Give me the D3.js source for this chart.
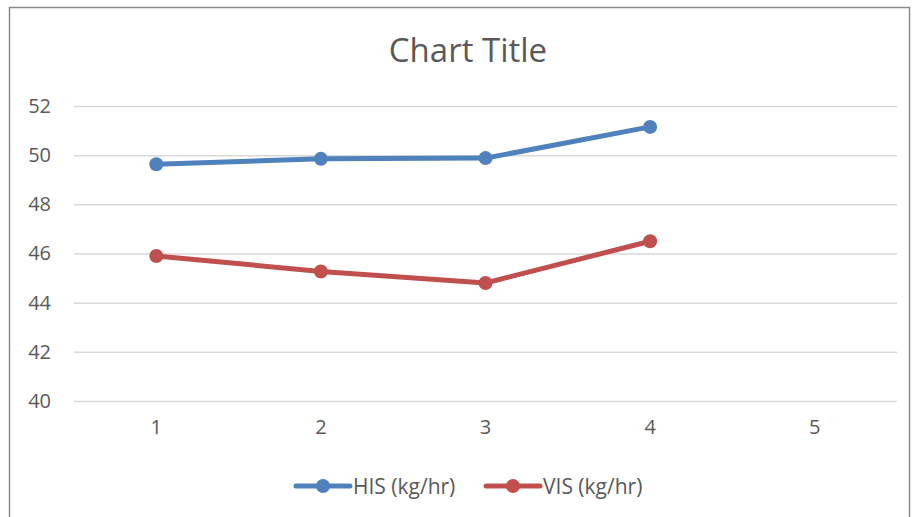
<!DOCTYPE html>
<html>
<head>
<meta charset="utf-8">
<script src="https://cdn.jsdelivr.net/npm/d3@7"></script>
<style>
    body { margin: 0; background: #fff; }
    text { font-family: "Open Sans", Lato, sans-serif; fill: #595959; }
</style>
</head>
<body>
<div id="chart"></div>
<script>
// chart data
var categories = [1, 2, 3, 4, 5];
var hisValues = [49.63, 49.85, 49.88, 51.15];
var visValues = [45.9, 45.27, 44.8, 46.5];
var yTicks = [40, 42, 44, 46, 48, 50, 52];
var seriesNames = ["HIS (kg/hr)", "VIS (kg/hr)"];
var seriesColors = ["#4f81bd", "#c0504d"];

var width = 912, height = 517;
var margin = { top: 106, right: 15, bottom: 116, left: 74 };

var svg = d3.select("#chart").append("svg")
    .attr("width", width)
    .attr("height", height);

// outer frame
svg.append("rect")
    .attr("x", 9.5).attr("y", 7.5)
    .attr("width", 900).attr("height", 530)
    .attr("fill", "none")
    .attr("stroke", "#8c8c8c")
    .attr("stroke-width", 1.5);

var plotW = width - margin.left - margin.right;
var plotH = height - margin.top - margin.bottom;

var g = svg.append("g")
    .attr("transform", "translate(" + margin.left + "," + margin.top + ")");

var x = d3.scaleBand()
    .domain(categories)
    .range([0, plotW]);
var y = d3.scaleLinear()
    .domain([40, 52])
    .range([plotH, 0]);

// gridlines
g.selectAll(".grid")
    .data(yTicks)
    .enter().append("line")
    .attr("class", "grid")
    .attr("x1", 0).attr("x2", plotW)
    .attr("y1", function(d) { return y(d) + 0.5; })
    .attr("y2", function(d) { return y(d) + 0.5; })
    .attr("stroke", "#d9d9d9")
    .attr("stroke-width", 1.5);

// y axis
var yAxis = d3.axisLeft(y).tickValues(yTicks).tickSize(0).tickPadding(23);
g.append("g").call(yAxis)
    .call(function(a) { a.select(".domain").remove(); })
    .selectAll("text")
    .style("font-size", "20px")
    .style("font-family", "'Open Sans', sans-serif")
    .style("fill", "#595959");

// x axis
var xAxis = d3.axisBottom(x).tickSize(0).tickPadding(19);
g.append("g")
    .attr("transform", "translate(0," + plotH + ")")
    .call(xAxis)
    .call(function(a) { a.select(".domain").remove(); })
    .selectAll("text")
    .style("font-size", "20px")
    .style("font-family", "'Open Sans', sans-serif")
    .style("fill", "#595959");

// title
svg.append("text")
    .attr("x", 468).attr("y", 62)
    .attr("text-anchor", "middle")
    .style("font-size", "33px")
    .text("Chart Title");

// lines
var line = d3.line()
    .x(function(d, i) { return x(categories[i]) + x.bandwidth() / 2; })
    .y(function(d) { return y(d); });

[hisValues, visValues].forEach(function(vals, k) {
    g.append("path")
        .datum(vals)
        .attr("d", line)
        .attr("fill", "none")
        .attr("stroke", seriesColors[k])
        .attr("stroke-width", 5)
        .attr("stroke-linejoin", "round");
    g.selectAll(".pt" + k)
        .data(vals)
        .enter().append("circle")
        .attr("cx", function(d, i) { return x(categories[i]) + x.bandwidth() / 2; })
        .attr("cy", function(d) { return y(d); })
        .attr("r", 7)
        .attr("fill", seriesColors[k]);
});

// legend
var legendX = [296, 486];
seriesNames.forEach(function(name, k) {
    var lg = svg.append("g")
        .attr("transform", "translate(" + legendX[k] + ",486)");
    lg.append("line")
        .attr("x1", 0).attr("x2", 54)
        .attr("stroke", seriesColors[k])
        .attr("stroke-width", 5)
        .attr("stroke-linecap", "round");
    lg.append("circle")
        .attr("cx", 27).attr("r", 7)
        .attr("fill", seriesColors[k]);
    lg.append("text")
        .attr("x", 57).attr("y", 8)
        .style("font-size", "21px")
        .text(name);
});
</script>
</body>
</html>
